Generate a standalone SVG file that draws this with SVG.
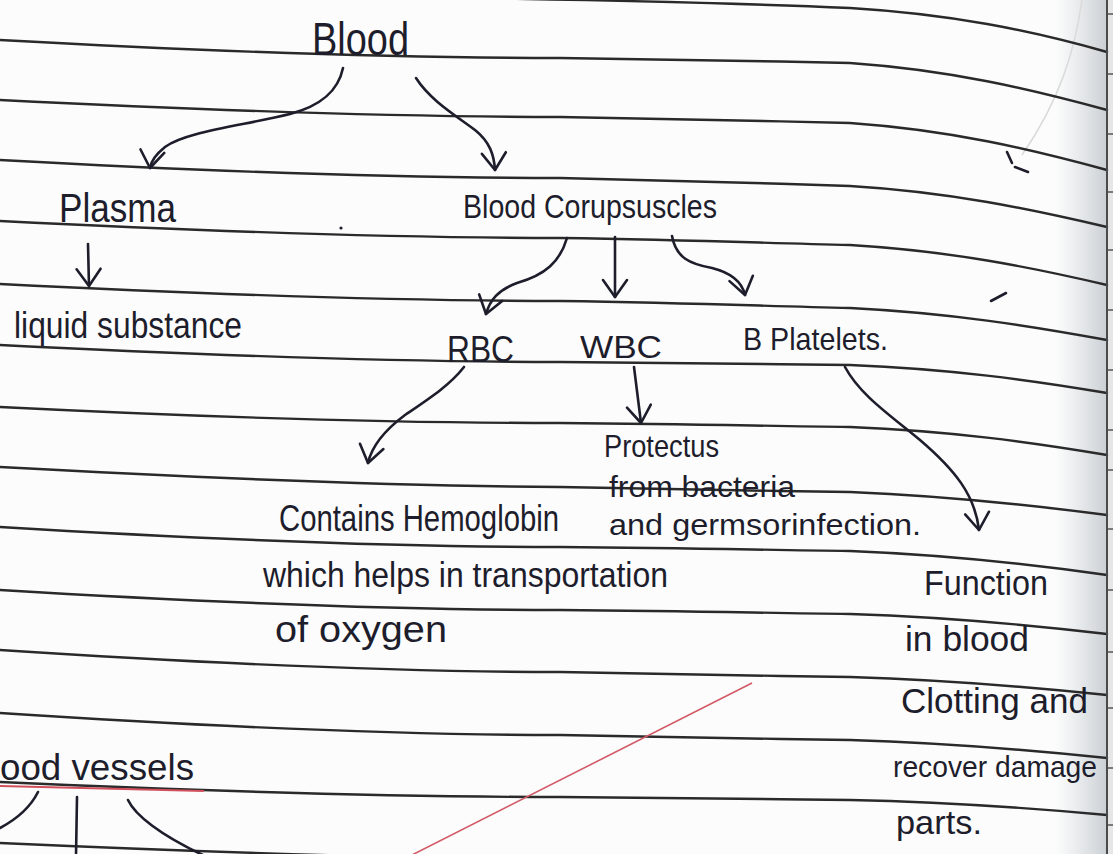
<svg xmlns="http://www.w3.org/2000/svg" width="1113" height="854" viewBox="0 0 1113 854">
<style>
.rule{fill:none;stroke:#2a2a2a;stroke-width:2.4;stroke-linecap:round}
.ink{fill:#1d1d2c;font-family:"Liberation Sans","DejaVu Sans",sans-serif}
.arrow{fill:none;stroke:#1d1d2c;stroke-width:2.6;stroke-linecap:round;marker-end:url(#vhead)}
.stroke{fill:none;stroke:#1d1d2c;stroke-width:2.6;stroke-linecap:round}
.tick{stroke:#555;stroke-width:1.5}
</style>
<defs>
<marker id="vhead" markerUnits="userSpaceOnUse" markerWidth="40" markerHeight="40" refX="0" refY="0" orient="auto" overflow="visible">
<path d="M-17,-12 L0,0 L-17,12" fill="none" stroke="#1d1d2c" stroke-width="2.6" stroke-linecap="round" stroke-linejoin="round"/>
</marker>
<linearGradient id="edge" x1="0" y1="0" x2="1" y2="0">
<stop offset="0" stop-color="#c9cfd4" stop-opacity="0"/>
<stop offset="1" stop-color="#b9c0c6" stop-opacity="0.75"/>
</linearGradient>
</defs>
<rect x="0" y="0" width="1113" height="854" fill="#fcfcfc"/>
<rect x="1055" y="0" width="52" height="854" fill="url(#edge)"/>
<rect x="1108" y="0" width="5" height="854" fill="#e6e6e6"/>
<path d="M1082,0 C1075,50 1060,100 1022,155" fill="none" stroke="#dadada" stroke-width="1.5"/>

<g id="ruled-lines">
<path class="rule" d="M470,-2 C650,1 760,4 850,8 C950,14 1030,30 1107,52"/>
<path class="rule" d="M0,40 C200,51 400,58 560,58 C700,60 760,61 850,63 C950,70 1030,89 1107,110"/>
<path class="rule" d="M0,100 C200,110 400,117 560,117 C700,119 760,121 850,123 C950,130 1030,149 1107,170"/>
<path class="rule" d="M0,160 C200,171 400,178 560,178 C700,181 760,183 850,186 C950,192 1030,209 1107,227"/>
<path class="rule" d="M0,221 C200,231 400,238 560,238 C700,240 760,243 850,245 C950,251 1030,267 1107,285"/>
<path class="rule" d="M0,284 C200,294 400,301 560,301 C700,303 760,306 850,308 C950,313 1030,326 1107,340"/>
<path class="rule" d="M0,345 C200,355 400,362 560,362 C700,363 760,364 850,365 C950,369 1030,380 1107,393"/>
<path class="rule" d="M0,407 C200,417 400,423 560,423 C700,424 760,426 850,427 C950,431 1030,442 1107,455"/>
<path class="rule" d="M0,467 C200,478 400,486 560,487 C700,489 760,491 850,492 C950,496 1030,505 1107,515"/>
<path class="rule" d="M0,527 C200,539 400,547 560,547 C700,548 760,550 850,551 C950,555 1030,564 1107,575"/>
<path class="rule" d="M0,590 C200,602 400,610 560,610 C700,611 760,613 850,614 C950,617 1030,625 1107,634"/>
<path class="rule" d="M0,650 C200,663 400,672 560,672 C700,674 760,676 850,677 C950,680 1030,687 1107,695"/>
<path class="rule" d="M0,713 C200,726 400,735 560,735 C700,737 760,739 850,740 C950,743 1030,750 1107,758"/>
<path class="rule" d="M0,782 C200,791 400,797 560,797 C700,798 760,799 850,800 C950,802 1030,808 1107,815"/>
<path class="rule" d="M0,843 C200,852 400,858 560,860"/>
</g>

<g id="page-edge">
<line x1="1107" y1="0" x2="1107" y2="854" stroke="#4a4a4a" stroke-width="2"/>
<line class="tick" x1="1108" y1="14" x2="1113" y2="14"/>
<line class="tick" x1="1108" y1="74" x2="1113" y2="74"/>
<line class="tick" x1="1108" y1="134" x2="1113" y2="134"/>
<line class="tick" x1="1108" y1="192" x2="1113" y2="192"/>
<line class="tick" x1="1108" y1="250" x2="1113" y2="250"/>
<line class="tick" x1="1108" y1="310" x2="1113" y2="310"/>
<line class="tick" x1="1108" y1="370" x2="1113" y2="370"/>
<line class="tick" x1="1108" y1="430" x2="1113" y2="430"/>
<line class="tick" x1="1108" y1="470" x2="1113" y2="470"/>
<line class="tick" x1="1108" y1="529" x2="1113" y2="529"/>
<line class="tick" x1="1108" y1="590" x2="1113" y2="590"/>
<line class="tick" x1="1108" y1="652" x2="1113" y2="652"/>
<line class="tick" x1="1108" y1="708" x2="1113" y2="708"/>
<line class="tick" x1="1108" y1="768" x2="1113" y2="768"/>
<line class="tick" x1="1108" y1="825" x2="1113" y2="825"/>
</g>

<g id="red-marks">
<path d="M0,786 L204,791" fill="none" stroke="#d2505c" stroke-width="2.2"/>
<path d="M410,856 L752,683" fill="none" stroke="#d25a66" stroke-width="1.6"/>
</g>

<g id="stray-marks">
<path d="M1007,152 L1012,163" class="stroke" stroke-width="3"/>
<path d="M1015,167 L1028,172" class="stroke" stroke-width="3"/>
<path d="M991,301 L1006,293" class="stroke" stroke-width="3"/>
<circle cx="341" cy="228" r="1.6" fill="#1d1d2c"/>
</g>

<g id="connectors">
<path class="arrow" d="M343,68 C338,92 320,106 290,114 C240,126 185,132 165,147 C155,155 151,161 150,168"/>
<path class="arrow" d="M416,78 C430,100 455,115 475,130 C490,142 494,155 495,170"/>
<path class="arrow" d="M88,244 L89,286"/>
<path class="arrow" d="M567,238 C560,262 545,275 517,283 C498,290 490,300 486,314"/>
<path class="arrow" d="M615,237 L615,297"/>
<path class="arrow" d="M672,236 C676,258 690,264 712,268 C732,273 742,282 745,295"/>
<path class="arrow" d="M464,367 C450,385 430,398 405,415 C385,430 372,445 368,463"/>
<path class="arrow" d="M634,367 L641,423"/>
<path class="arrow" d="M845,367 C860,395 890,415 920,440 C955,470 975,495 979,530"/>
<path class="stroke" d="M38,792 C30,808 15,820 0,828"/>
<path class="stroke" d="M77,797 L76,856"/>
<path class="stroke" d="M128,800 C135,815 160,835 205,856"/>
</g>

<g id="node-blood"><text class="ink" x="312" y="55" font-size="46" textLength="97" lengthAdjust="spacingAndGlyphs">Blood</text></g>
<g id="node-plasma"><text class="ink" x="59" y="222" font-size="40" textLength="117" lengthAdjust="spacingAndGlyphs">Plasma</text></g>
<g id="node-corpuscles"><text class="ink" x="463" y="218" font-size="34" textLength="254" lengthAdjust="spacingAndGlyphs">Blood Corupsuscles</text></g>
<g id="node-liquid"><text class="ink" x="14" y="338" font-size="36" textLength="228" lengthAdjust="spacingAndGlyphs">liquid substance</text></g>
<g id="node-rbc"><text class="ink" x="447" y="362" font-size="36" textLength="67" lengthAdjust="spacingAndGlyphs">RBC</text></g>
<g id="node-wbc"><text class="ink" x="580" y="358" font-size="32" textLength="82" lengthAdjust="spacingAndGlyphs">WBC</text></g>
<g id="node-platelets"><text class="ink" x="743" y="350" font-size="32" textLength="145" lengthAdjust="spacingAndGlyphs">B Platelets.</text></g>
<g id="node-wbc-function">
<text class="ink" x="604" y="457" font-size="32" textLength="115" lengthAdjust="spacingAndGlyphs">Protectus</text>
<text class="ink" x="609" y="497" font-size="30" textLength="186" lengthAdjust="spacingAndGlyphs">from bacteria</text>
<text class="ink" x="609" y="535" font-size="30" textLength="312" lengthAdjust="spacingAndGlyphs">and germsorinfection.</text>
</g>
<g id="node-rbc-function">
<text class="ink" transform="translate(279,531) scale(0.78,1)" x="0" y="0" font-size="37" textLength="359" lengthAdjust="spacingAndGlyphs">Contains Hemoglobin</text>
<text class="ink" x="263" y="587" font-size="35" textLength="405" lengthAdjust="spacingAndGlyphs">which helps in transportation</text>
<text class="ink" x="275" y="642" font-size="36" textLength="172" lengthAdjust="spacingAndGlyphs">of oxygen</text>
</g>
<g id="node-platelets-function">
<text class="ink" x="924" y="595" font-size="35" textLength="124" lengthAdjust="spacingAndGlyphs">Function</text>
<text class="ink" x="905" y="651" font-size="35" textLength="124" lengthAdjust="spacingAndGlyphs">in blood</text>
<text class="ink" x="901" y="713" font-size="35" textLength="187" lengthAdjust="spacingAndGlyphs">Clotting and</text>
<text class="ink" x="893" y="777" font-size="29" textLength="204" lengthAdjust="spacingAndGlyphs">recover damage</text>
<text class="ink" x="896" y="834" font-size="34" textLength="86" lengthAdjust="spacingAndGlyphs">parts.</text>
</g>
<g id="node-vessels"><text class="ink" x="0" y="780" font-size="36" textLength="194" lengthAdjust="spacingAndGlyphs">ood vessels</text></g>
</svg>
